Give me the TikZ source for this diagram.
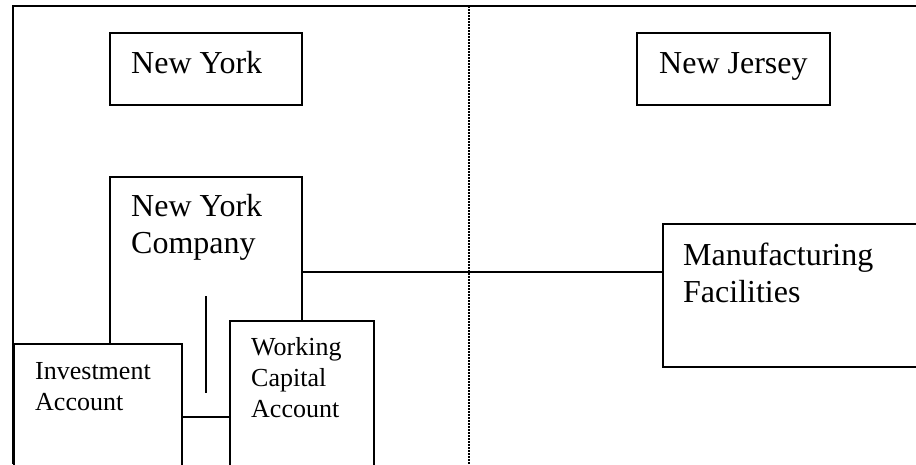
\documentclass[tikz,border=0pt]{standalone}
\usepackage{fontspec}
\setmainfont{Liberation Serif}
\begin{document}
\begin{tikzpicture}[x=1pt,y=-1pt,
  box/.style={draw,line width=1.6pt,fill=white,rectangle,inner sep=0pt,outer sep=0pt,anchor=north west},
  big/.style={inner sep=0pt,anchor=base west,font=\fontsize{32}{38}\selectfont},
  small/.style={inner sep=0pt,anchor=base west,font=\fontsize{26}{31}\selectfont},
  link/.style={line width=1.6pt}]
\useasboundingbox (0,0) rectangle (916,464);
\clip (0,0) rectangle (916,464);
% frame
\coordinate (tl) at (13,6);
\coordinate (tr) at (916,6);
\coordinate (bl) at (13,464);
\coordinate (dt) at (469,6);
\coordinate (db) at (469,464);
\draw[line width=1.6pt] (bl) -- (tl) -- (tr);
\draw[line width=1.2pt,dash pattern=on 1.5pt off 1.5pt] (dt) -- (db);
% boxes
\node[box,minimum width=192pt,minimum height=72pt] (ny) at (110,33) {};
\node[box,minimum width=193pt,minimum height=72pt] (nj) at (637,33) {};
\node[box,minimum width=192pt,minimum height=310pt] (nyc) at (110,177) {};
\node[box,minimum width=267pt,minimum height=143pt] (mf) at (663,224) {};
\node[box,minimum width=168pt,minimum height=140pt] (inv) at (14,344) {};
\node[box,minimum width=144pt,minimum height=160pt] (wc) at (230,321) {};
% texts
\node[big] (t1) at (131,73) {New York};
\node[big] (t2) at (659,73) {New Jersey};
\node[big] (t3) at (131,216) {New York};
\node[big] (t4) at (131,253) {Company};
\node[big] (t5) at (683,265) {Manufacturing};
\node[big] (t6) at (683,302) {Facilities};
\node[small] (t7) at (35,379) {Investment};
\node[small] (t8) at (35,410) {Account};
\node[small] (t9) at (251,355) {Working};
\node[small] (t10) at (251,386) {Capital};
\node[small] (t11) at (251,417) {Account};
% connectors
\draw[link] (nyc.east |- 0,272) -- (mf.west |- 0,272);
\draw[link] (inv.east |- 0,417) -- (wc.west |- 0,417);
\coordinate (v1) at (206,296);
\coordinate (v2) at (206,393);
\draw[link] (v1) -- (v2);
\end{tikzpicture}
\end{document}
